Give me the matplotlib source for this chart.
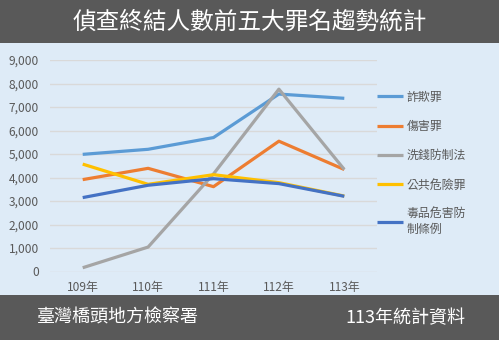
import matplotlib
matplotlib.use('Agg')
import matplotlib.pyplot as plt
from matplotlib.patches import Rectangle

plt.rcParams['font.family'] = ['Noto Sans CJK TC', 'DejaVu Sans']

years = ['109年', '110年', '111年', '112年', '113年']
fraud = [4985, 5200, 5700, 7550, 7370]
injury = [3910, 4390, 3610, 5545, 4340]
money_laundering = [160, 1040, 4150, 7760, 4340]
public_danger = [4570, 3710, 4120, 3780, 3210]
drugs = [3145, 3670, 3950, 3740, 3200]

series = [
    ('詐欺罪', fraud, '#5B9BD5'),
    ('傷害罪', injury, '#ED7D31'),
    ('洗錢防制法', money_laundering, '#A5A5A5'),
    ('公共危險罪', public_danger, '#FFC000'),
    ('毒品危害防\n制條例', drugs, '#4472C4'),
]

W, H = 499, 340
fig = plt.figure(figsize=(W / 100, H / 100), dpi=100, facecolor='#DEEBF7')

# header and footer bars
fig.add_artist(Rectangle((0, (H - 43) / H), 1, 43 / H, transform=fig.transFigure,
                         facecolor='#595959', edgecolor='none'))
fig.add_artist(Rectangle((0, 0), 1, (H - 295) / H, transform=fig.transFigure,
                         facecolor='#595959', edgecolor='none'))
fig.text(0.5, (H - 22) / H, '偵查終結人數前五大罪名趨勢統計', color='white',
         fontsize=17, ha='center', va='center')
fig.text(37 / W, (H - 318) / H, '臺灣橋頭地方檢察署', color='white',
         fontsize=13, ha='left', va='center')
fig.text(465 / W, (H - 318) / H, '113年統計資料', color='white',
         fontsize=13, ha='right', va='center')

ax = fig.add_axes([50 / W, (H - 271.5) / H, 327 / W, 211.5 / H])
ax.set_facecolor('none')

x = range(len(years))
for name, vals, col in series:
    ax.plot(x, vals, color=col, linewidth=2.3, label=name, solid_capstyle='butt')

ax.set_xlim(-0.5, len(years) - 0.5)
ax.set_ylim(0, 9000)
ax.set_yticks(range(0, 9001, 1000))
ax.set_yticklabels([f'{v:,}' for v in range(0, 9001, 1000)])
ax.set_xticks(list(x))
ax.set_xticklabels(years)
ax.grid(axis='y', color='#D9D9D9', linewidth=1)
ax.set_axisbelow(True)
for s in ax.spines.values():
    s.set_visible(False)
ax.tick_params(length=0, colors='#595959', labelsize=8.6)
ax.tick_params(axis='y', pad=8)
ax.tick_params(axis='x', pad=7)

leg = ax.legend(loc='upper left', bbox_to_anchor=(1.0, 0.855), frameon=False,
                fontsize=8.6, handlelength=2.2, handletextpad=0.3,
                labelspacing=1.36, borderaxespad=0, borderpad=0)
for t in leg.get_texts():
    t.set_color('#595959')

fig.savefig('out.png', dpi=100, facecolor=fig.get_facecolor())
